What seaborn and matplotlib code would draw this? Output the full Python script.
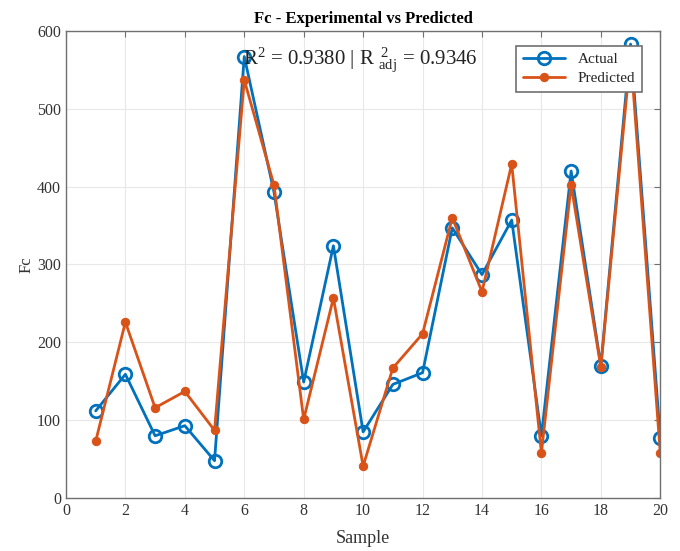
import matplotlib
matplotlib.use("Agg")
import matplotlib.pyplot as plt
import seaborn as sns
import pandas as pd

samples = list(range(1, 21))
actual = [112, 159, 80, 93, 48, 567, 393, 149, 324, 85, 146, 161, 347, 287, 357, 80, 420, 170, 583, 77]
predicted = [73, 226, 116, 137, 87, 537, 402, 101, 257, 41, 167, 211, 360, 265, 429, 58, 402, 168, 570, 58]

x_ticks = [0, 2, 4, 6, 8, 10, 12, 14, 16, 18, 20]
y_ticks = [0, 100, 200, 300, 400, 500, 600]

sns.set_theme(style="whitegrid")
plt.rcParams['font.family'] = ['Liberation Serif', 'DejaVu Serif']
plt.rcParams['mathtext.fontset'] = 'custom'
plt.rcParams['mathtext.rm'] = 'Liberation Serif'
plt.rcParams['mathtext.it'] = 'Liberation Serif'

df = pd.DataFrame({"Sample": samples, "Actual": actual, "Predicted": predicted})

fig = plt.figure(figsize=(6.8, 5.51), dpi=100)
ax = fig.add_axes([0.097, 0.096, 0.874, 0.848])
ax.set_facecolor('white')

blue = '#0072BD'
orange = '#D95319'

sns.lineplot(data=df, x="Sample", y="Actual", ax=ax, color=blue, lw=2,
             marker='o', markersize=9, markerfacecolor='none',
             markeredgecolor=blue, markeredgewidth=2, label='Actual')
sns.lineplot(data=df, x="Sample", y="Predicted", ax=ax, color=orange, lw=2,
             marker='o', markersize=6, markerfacecolor=orange,
             markeredgecolor=orange, label='Predicted')

ax.set_xlim(0, 20)
ax.set_ylim(0, 600)
ax.set_xticks(x_ticks)
ax.set_yticks(y_ticks)
ax.grid(True, color='#e8e8e8', lw=0.8)
for s in ax.spines.values():
    s.set_color('#707070')
    s.set_linewidth(1.0)
ax.tick_params(direction='in', length=4, top=True, right=True, colors='#707070',
               labelcolor='#333333', labelsize=11.5, width=0.8)

ax.set_xlabel('Sample', fontsize=13, color='#333333', labelpad=8)
ax.set_ylabel('Fc', fontsize=12, color='#333333', labelpad=2)
ax.set_title('Fc - Experimental vs Predicted', fontsize=12, fontweight='bold', color='black', pad=6)

ax.text(5.95, 562, r'R$^{2}$ = 0.9380 | R $^{\,2}_{\mathrm{adj}}$ = 0.9346', fontsize=15,
        ha='left', va='center', color='#222222')

leg = ax.legend(loc='upper right', bbox_to_anchor=(0.982, 0.985), fontsize=11,
                frameon=True, fancybox=False, edgecolor='#707070', handlelength=2.8,
                borderpad=0.45, labelspacing=0.35, framealpha=1)
leg.get_frame().set_linewidth(1.2)

fig.savefig('out.png', dpi=100)
